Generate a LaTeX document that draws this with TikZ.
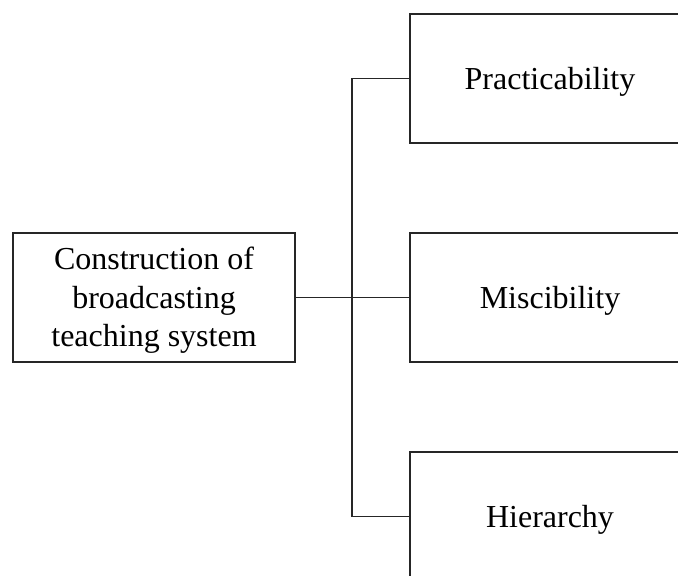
\documentclass[tikz,border=0pt]{standalone}
\usepackage{fontspec}
\setmainfont{Liberation Serif}
\begin{document}
\begin{tikzpicture}[x=1pt,y=-1pt,
  box/.style={draw=black!85, line width=1.2pt, minimum width=280pt, minimum height=129pt, inner sep=0pt, anchor=center},
  txt/.style={align=center, font=\fontsize{32}{38.5}\selectfont, yshift=-3pt, inner sep=0pt},
  link/.style={draw=black!85, line width=1.1pt}]
\useasboundingbox (0,0) rectangle (678,576);
\clip (0,0) rectangle (678,576);
\node[box, minimum width=282pt, label={[txt]center:Construction of\\broadcasting\\teaching system}] (root) at (154,297.5) {};
\node[box, label={[txt]center:Practicability}] (p) at (550,78.5) {};
\node[box, label={[txt]center:Miscibility}] (m) at (550,297.5) {};
\node[box, label={[txt]center:Hierarchy}] (h) at (550,516.5) {};
\coordinate (j) at (352,297.5);
\draw[link] (root.east) -- (m.west);
\draw[link] (p.west) -| (j) |- (h.west);
\end{tikzpicture}
\end{document}
